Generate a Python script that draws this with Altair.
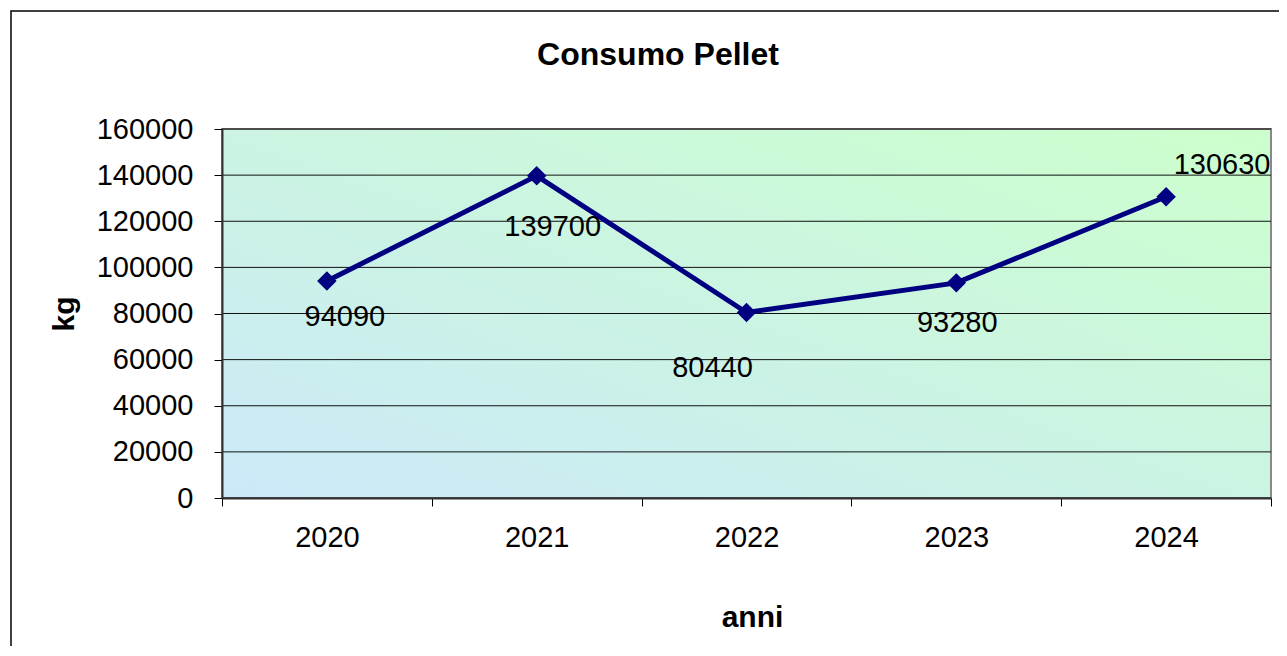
import altair as alt
import pandas as pd

# ---- data ----
years = ["2020", "2021", "2022", "2023", "2024"]
consumo = [94090, 139700, 80440, 93280, 130630]
y_ticks = [0, 20000, 40000, 60000, 80000, 100000, 120000, 140000, 160000]

chart_title = "Consumo Pellet"
x_title = "anni"
y_title = "kg"

# ---- layout ----
W, H = 1049, 369
FONT = "Liberation Sans, Arial, sans-serif"
NAVY = "#000080"

df = pd.DataFrame({"anno": years, "kg": consumo})
grid_df = pd.DataFrame({"kg": y_ticks})
one = pd.DataFrame({"k": [0]})

xscale = alt.Scale(type="band", paddingInner=0, paddingOuter=0, domain=years)
yscale = alt.Scale(domain=[0, 160000], nice=False)

x_axis = alt.Axis(
    title=x_title, titleFont=FONT, titleFontSize=30, titleFontWeight="bold",
    titleColor="#000", titleX=530, titleY=128, titleAlign="center",
    titleBaseline="alphabetic",
    labelFont=FONT, labelFontSize=29, labelColor="#000", labelPadding=17,
    labelAngle=0, tickSize=8, tickColor="#000", tickWidth=1, tickBand="extent",
    domainColor="#333", domainWidth=2, grid=False, zindex=1,
)
y_axis = alt.Axis(
    title=y_title, titleFont=FONT, titleFontSize=30, titleFontWeight="bold",
    titleColor="#000", titleX=-158, titleY=H / 2, titleAlign="center",
    titleBaseline="middle", titleAngle=270,
    values=y_ticks, format="d",
    labelFont=FONT, labelFontSize=29, labelColor="#000", labelPadding=21,
    tickSize=8, tickColor="#000", tickWidth=1,
    domainColor="#333", domainWidth=2, grid=False, zindex=1,
)

# outer frame
frame = alt.Chart(one).mark_rect(filled=False, stroke="#000", strokeWidth=1.5).encode(
    x=alt.value(-211), x2=alt.value(1120), y=alt.value(-118), y2=alt.value(700)
)

# plot background gradient
bg = alt.Chart(one).mark_rect(
    fill=alt.LinearGradient(
        gradient="linear", x1=0, y1=1, x2=1, y2=0,
        stops=[alt.GradientStop(offset=0, color="#CBE9F9"),
               alt.GradientStop(offset=1, color="#CCFFCC")],
    ),
    stroke="#888888", strokeWidth=2,
).encode(x=alt.value(0), x2=alt.value(W), y=alt.value(0), y2=alt.value(H))

grid = alt.Chart(grid_df).mark_rule(color="#111", strokeWidth=1).encode(
    y=alt.Y("kg:Q", scale=yscale, axis=y_axis)
)

base = alt.Chart(df).encode(
    x=alt.X("anno:O", scale=xscale, axis=x_axis),
    y=alt.Y("kg:Q", scale=yscale, axis=y_axis),
)
line = base.mark_line(color=NAVY, strokeWidth=5)
pts = base.mark_point(shape="diamond", filled=True, size=380, color=NAVY, opacity=1)

label_offsets = {"2020": (18, 36), "2021": (16, 51), "2022": (-34, 56),
                 "2023": (1, 40), "2024": (56, -32)}
labels = []
for yr in years:
    dx, dy = label_offsets[yr]
    labels.append(
        base.transform_filter(alt.datum.anno == yr)
        .mark_text(font=FONT, fontSize=29, color="#000", align="center",
                   baseline="middle", dx=dx, dy=dy)
        .encode(text=alt.Text("kg:Q", format="d"))
    )

title_txt = alt.Chart(one).mark_text(
    text=chart_title, font=FONT, fontSize=32, fontWeight="bold", color="#000",
    align="center", baseline="middle",
).encode(x=alt.value(436), y=alt.value(-74))

chart = alt.layer(frame, bg, grid, line, pts, *labels, title_txt).properties(
    width=W, height=H,
    autosize=alt.AutoSizeParams(type="none"),
    padding={"left": 214, "top": 121, "right": 8, "bottom": 148},
    background="white",
).configure_view(stroke=None)

chart.save("out.html", embed_options={"renderer": "svg", "actions": False})
